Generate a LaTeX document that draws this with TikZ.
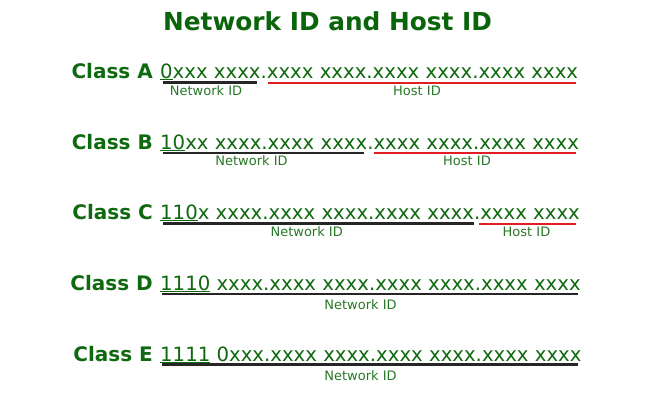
\documentclass[tikz,border=0pt]{standalone}
\usepackage{fontspec}
\setmainfont{DejaVu Sans}
\definecolor{ttlgreen}{RGB}{10,100,10}
\definecolor{txtgreen}{RGB}{15,105,15}
\definecolor{lblgreen}{RGB}{40,120,40}
\definecolor{hostred}{RGB}{225,30,35}
\begin{document}
\begin{tikzpicture}[x=1pt,y=-1pt,
  ttlstyle/.style={anchor=base,inner sep=0pt,text=ttlgreen,font=\fontsize{24.8}{28}\selectfont\bfseries},
  clsstyle/.style={anchor=base east,inner sep=0pt,text=txtgreen,font=\fontsize{20}{24}\selectfont\bfseries},
  addrstyle/.style={anchor=base west,inner sep=0pt,text=txtgreen,font=\fontsize{19.7}{24}\selectfont},
  lblstyle/.style={anchor=base,inner sep=0pt,text=lblgreen,font=\fontsize{13}{16}\selectfont},
  netline/.style={draw=black!85,line width=2.5pt},
  hostline/.style={draw=hostred,line width=2pt},
  prefixline/.style={draw=txtgreen,line width=0.7pt}]
\useasboundingbox[fill=white] (0,0) rectangle (660,413);
\node[ttlstyle] (t) at (327.5,30) {Network ID and Host ID};
% Class A
\node[clsstyle] (ca) at (153,78) {Class A};
\node[addrstyle] (aa) at (160,78) {0xxx xxxx.xxxx xxxx.xxxx xxxx.xxxx xxxx};
\draw[prefixline] (160,79.3) -- (172.5,79.3);
\draw[netline] (163,82.5) coordinate (an1) -- (257,82.5) coordinate (an2);
\draw[hostline] (268,82.5) coordinate (ah1) -- (576,82.5) coordinate (ah2);
\node[lblstyle] (aln) at (206,95.7) {Network ID};
\node[lblstyle] (alh) at (417,95.7) {Host ID};
% Class B
\node[clsstyle] (cb) at (153,149) {Class B};
\node[addrstyle] (ab) at (160,149) {10xx xxxx.xxxx xxxx.xxxx xxxx.xxxx xxxx};
\draw[prefixline] (160,150.3) -- (185,150.3);
\draw[netline] (163,153) coordinate (bn1) -- (364,153) coordinate (bn2);
\draw[hostline] (374,153) coordinate (bh1) -- (576,153) coordinate (bh2);
\node[lblstyle] (bln) at (251.5,165) {Network ID};
\node[lblstyle] (blh) at (467,165) {Host ID};
% Class C
\node[clsstyle] (cc) at (153,219.5) {Class C};
\node[addrstyle] (ac) at (160,219.5) {110x xxxx.xxxx xxxx.xxxx xxxx.xxxx xxxx};
\draw[prefixline] (160,220.8) -- (197.5,220.8);
\draw[netline] (163,223.5) coordinate (cn1) -- (474,223.5) coordinate (cn2);
\draw[hostline] (479,223.5) coordinate (ch1) -- (576,223.5) coordinate (ch2);
\node[lblstyle] (cln) at (306.7,236.7) {Network ID};
\node[lblstyle] (clh) at (526.5,236.7) {Host ID};
% Class D
\node[clsstyle] (cd) at (153,290) {Class D};
\node[addrstyle] (ad) at (160,290) {1110 xxxx.xxxx xxxx.xxxx xxxx.xxxx xxxx};
\draw[prefixline] (160,291.3) -- (210,291.3);
\draw[netline] (162,293.8) coordinate (dn1) -- (578,293.8) coordinate (dn2);
\node[lblstyle] (dln) at (360.5,309.3) {Network ID};
% Class E
\node[clsstyle] (ce) at (153,361) {Class E};
\node[addrstyle] (ae) at (160,361) {1111 0xxx.xxxx xxxx.xxxx xxxx.xxxx xxxx};
\draw[prefixline] (160,362.3) -- (210,362.3);
\draw[netline] (162,364.6) coordinate (en1) -- (578,364.6) coordinate (en2);
\node[lblstyle] (eln) at (360.5,380) {Network ID};
\end{tikzpicture}
\end{document}
